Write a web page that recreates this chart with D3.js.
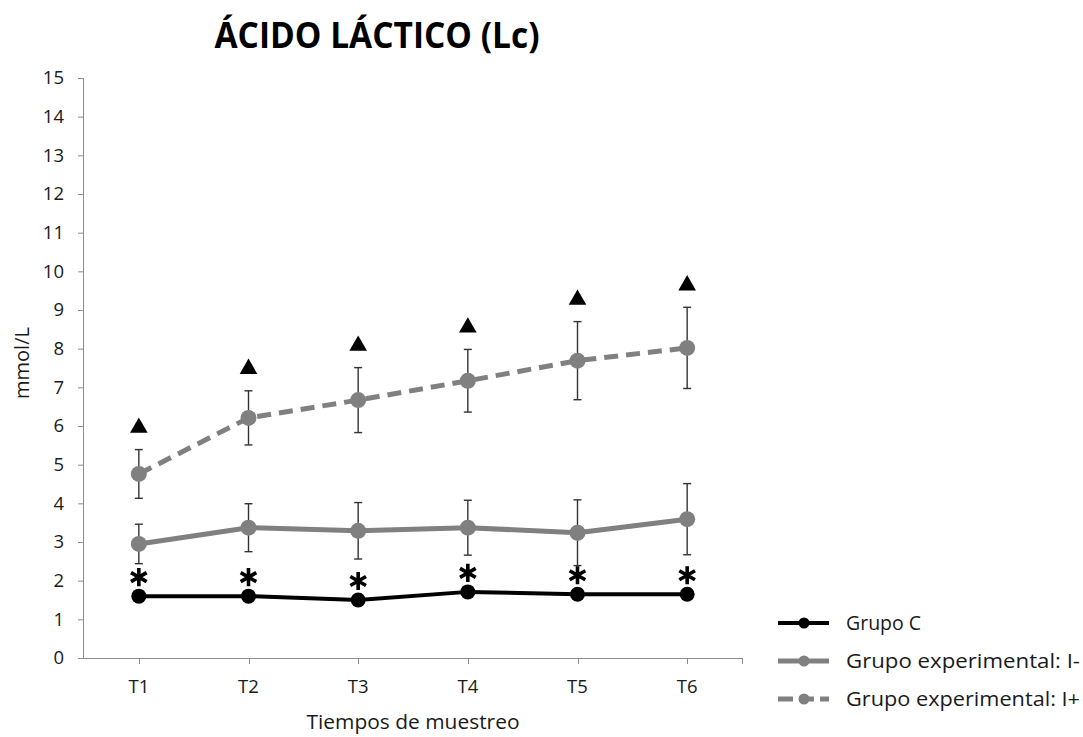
<!DOCTYPE html>
<html>
<head>
<meta charset="utf-8">
<script src="https://cdn.jsdelivr.net/npm/d3@7"></script>
<style>
  html, body { margin: 0; padding: 0; background: #ffffff; }
  svg { display: block; }
  text { font-family: "Open Sans", "DejaVu Sans", sans-serif; }
</style>
</head>
<body>
<svg id="chart" width="1083" height="737"></svg>
<script>
// Sampling times
const categories = ["T1", "T2", "T3", "T4", "T5", "T6"];

// Lactate (mmol/L), means per group
const grupoC = [1.60, 1.60, 1.50, 1.71, 1.65, 1.65];
const grupoIminus = [2.95, 3.37, 3.29, 3.37, 3.24, 3.59];
const grupoIplus = [4.76, 6.21, 6.67, 7.17, 7.69, 8.02];

// Standard deviations for the experimental groups
const grupoIminusSD = [0.51, 0.62, 0.73, 0.71, 0.85, 0.92];
const grupoIplusSD = [0.63, 0.70, 0.84, 0.81, 1.01, 1.05];

// Y axis ticks
const yTicks = d3.range(0, 16);

// Legend labels
const legendLabels = ["Grupo C", "Grupo experimental: I-", "Grupo experimental: I+"];

const svg = d3.select("#chart");
svg.append("rect").attr("width", 1083).attr("height", 737).attr("fill", "#ffffff");

const plot = { left: 84, right: 742, top: 78, bottom: 658 };

const x = d3.scaleBand().domain(categories).range([plot.left, plot.right]);
const cx = c => x(c) + x.bandwidth() / 2;
const y = d3.scaleLinear().domain([0, 15]).range([plot.bottom, plot.top]);

const axisColor = "#8c8c8c";
const textColor = "#1a1a1a";

// Y axis
const yAxis = svg.append("g")
  .attr("transform", `translate(${plot.left},0)`)
  .call(d3.axisLeft(y).tickValues(yTicks).tickSize(6).tickPadding(14).tickFormat(d3.format("d")));
yAxis.select(".domain").attr("stroke", axisColor).attr("d", `M-0.5,${plot.top}V${plot.bottom}`);
yAxis.selectAll(".tick line").attr("stroke", axisColor);
yAxis.selectAll(".tick text")
  .attr("fill", textColor)
  .style("font-size", "18.5px")
  .style("font-family", "'Open Sans', sans-serif");

// X axis: ticks at each sampling time and at the right end
const xAxis = svg.append("g").attr("transform", `translate(0,${plot.bottom})`);
xAxis.append("line")
  .attr("x1", plot.left).attr("x2", plot.right)
  .attr("y1", 0.5).attr("y2", 0.5)
  .attr("stroke", axisColor);
const xTickPos = categories.map(cx).concat([plot.right]);
xAxis.selectAll("line.tick")
  .data(xTickPos)
  .join("line")
  .attr("class", "tick")
  .attr("x1", d => Math.round(d) + 0.5).attr("x2", d => Math.round(d) + 0.5)
  .attr("y1", 0).attr("y2", 6)
  .attr("stroke", axisColor);
xAxis.selectAll("text.lbl")
  .data(categories)
  .join("text")
  .attr("class", "lbl")
  .attr("x", d => cx(d))
  .attr("y", 35)
  .attr("text-anchor", "middle")
  .attr("fill", textColor)
  .style("font-size", "18.5px")
  .text(d => d);

// Axis titles
svg.append("text")
  .attr("x", 413).attr("y", 729)
  .attr("text-anchor", "middle")
  .attr("fill", textColor)
  .style("font-size", "20.5px")
  .attr("textLength", 213)
  .attr("lengthAdjust", "spacingAndGlyphs")
  .text("Tiempos de muestreo");

svg.append("text")
  .attr("transform", "translate(29,363) rotate(-90)")
  .attr("text-anchor", "middle")
  .attr("fill", textColor)
  .style("font-size", "20px")
  .text("mmol/L");

// Title
svg.append("text")
  .attr("x", 377).attr("y", 48)
  .attr("text-anchor", "middle")
  .attr("fill", "#000000")
  .style("font-size", "35px")
  .style("font-weight", "700")
  .attr("textLength", 325)
  .attr("lengthAdjust", "spacingAndGlyphs")
  .text("ÁCIDO LÁCTICO (Lc)");

// Series definitions
const series = [
  { values: grupoC, sd: null, color: "#000000", width: 4, dash: null, r: 7.5 },
  { values: grupoIminus, sd: grupoIminusSD, color: "#808080", width: 5, dash: null, r: 8 },
  { values: grupoIplus, sd: grupoIplusSD, color: "#808080", width: 5, dash: "14,8", r: 8 }
];

// Error bars
const errColor = "#333333";
series.filter(s => s.sd).forEach(s => {
  const g = svg.append("g");
  const rows = categories.map((c, i) => ({ c, v: s.values[i], sd: s.sd[i] }));
  g.selectAll("line.stem").data(rows).join("line")
    .attr("x1", d => cx(d.c)).attr("x2", d => cx(d.c))
    .attr("y1", d => y(d.v + d.sd)).attr("y2", d => y(d.v - d.sd))
    .attr("stroke", errColor).attr("stroke-width", 1.4);
  ["top", "bot"].forEach(k => {
    g.selectAll("line.cap" + k).data(rows).join("line")
      .attr("x1", d => cx(d.c) - 4).attr("x2", d => cx(d.c) + 4)
      .attr("y1", d => y(k === "top" ? d.v + d.sd : d.v - d.sd))
      .attr("y2", d => y(k === "top" ? d.v + d.sd : d.v - d.sd))
      .attr("stroke", errColor).attr("stroke-width", 1.4);
  });
});

// Lines and markers
const line = d3.line().x((d, i) => cx(categories[i])).y(d => y(d));
series.forEach(s => {
  svg.append("path")
    .datum(s.values)
    .attr("d", line)
    .attr("fill", "none")
    .attr("stroke", s.color)
    .attr("stroke-width", s.width)
    .attr("stroke-linejoin", "round")
    .attr("stroke-dasharray", s.dash);
  svg.append("g").selectAll("circle").data(s.values).join("circle")
    .attr("cx", (d, i) => cx(categories[i]))
    .attr("cy", d => y(d))
    .attr("r", s.r)
    .attr("fill", s.color);
});

// Significance marks: asterisks above the control group
const asterisk = d3.symbol().type(d3.symbolAsterisk).size(230);
svg.append("g").selectAll("path").data(grupoC).join("path")
  .attr("transform", (d, i) => `translate(${cx(categories[i])},${y(d) - 19})`)
  .attr("d", asterisk)
  .attr("fill", "none")
  .attr("stroke", "#000000")
  .attr("stroke-width", 3.6);

// Triangles above the I+ error bars
const tri = d3.symbol().type(d3.symbolTriangle).size(135);
svg.append("g").selectAll("path").data(grupoIplus).join("path")
  .attr("transform", (d, i) => `translate(${cx(categories[i])},${y(d + grupoIplusSD[i]) - 22})`)
  .attr("d", tri)
  .attr("fill", "#000000");

// Legend
const legend = svg.append("g");
const legendY = [623, 661, 699];
series.forEach((s, i) => {
  const g = legend.append("g").attr("transform", `translate(0,${legendY[i]})`);
  g.append("line")
    .attr("x1", 778).attr("x2", 829).attr("y1", 0).attr("y2", 0)
    .attr("stroke", s.color).attr("stroke-width", s.width)
    .attr("stroke-dasharray", s.dash ? "15,6" : null);
  g.append("circle").attr("cx", 804).attr("cy", 0).attr("r", 5.5).attr("fill", s.color);
  g.append("text")
    .attr("x", 846).attr("y", 7)
    .attr("fill", textColor)
    .style("font-size", "19.5px")
    .attr("textLength", legendLabels[i] === "Grupo C" ? null : 234)
    .attr("lengthAdjust", "spacingAndGlyphs")
    .text(legendLabels[i]);
});
</script>
</body>
</html>
